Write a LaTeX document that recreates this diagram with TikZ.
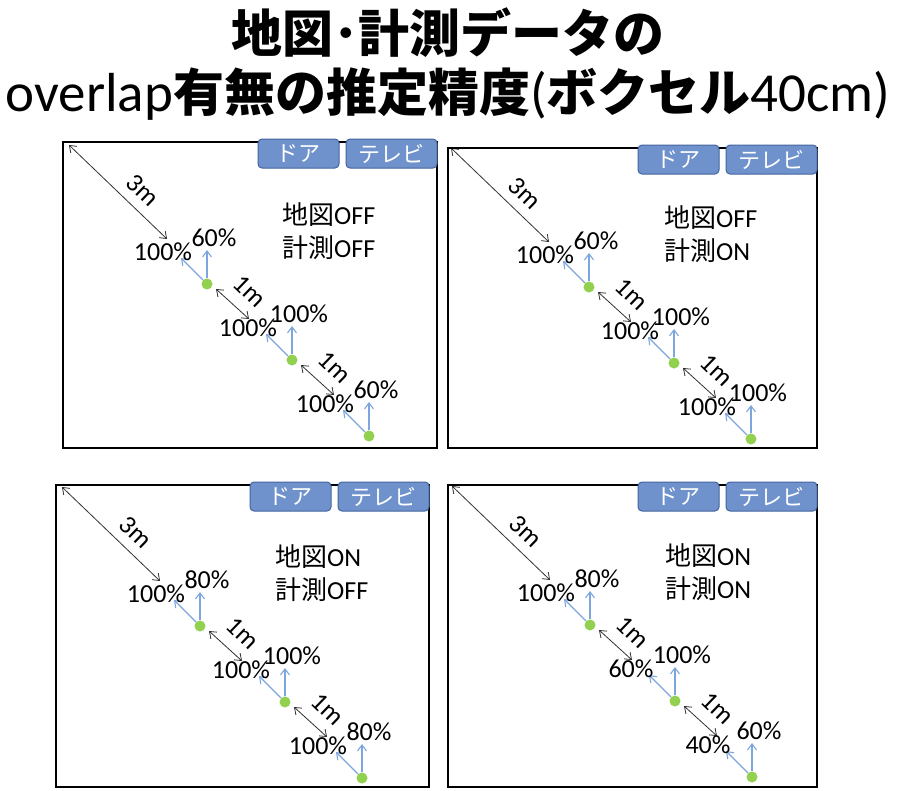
\documentclass[tikz,border=0pt]{standalone}
\usepackage{fontspec}
\setmainfont{Carlito}
\newfontfamily\jp{Noto Sans CJK JP}
\usetikzlibrary{arrows.meta,calc}
\definecolor{dotgreen}{RGB}{146,208,80}
\definecolor{arrblue}{RGB}{125,165,222}
\definecolor{btnfill}{RGB}{112,146,204}
\definecolor{btnedge}{RGB}{68,100,160}
\definecolor{dimgray}{RGB}{50,50,50}
\newcommand{\jpl}{\jp\fontsize{26}{30}\selectfont}
\newcommand{\jpt}{\jp\bfseries\fontsize{51}{60}\selectfont}
\tikzset{
  dotnode/.style={circle, fill=dotgreen, minimum size=11pt, inner sep=0pt},
  dimarrow/.style={draw=dimgray, line width=0.8pt, {Straight Barb[length=6pt,width=9pt]}-{Straight Barb[length=6pt,width=9pt]}},
  bluearrow/.style={draw=arrblue, line width=1.1pt, -{Straight Barb[length=6pt,width=9pt]}},
  lbl/.style={font=\fontsize{26}{30}\selectfont, inner sep=0pt},
  frameline/.style={draw=black, line width=1.8pt},
  btn/.style={draw=btnedge, fill=btnfill, line width=1pt, rounded corners=4pt, text=white, font=\jp\fontsize{22}{24}\selectfont, inner sep=0pt, minimum height=29pt},
  titletext/.style={font=\fontsize{55}{60}\selectfont, inner sep=0pt, anchor=base},
}
% frame with buttons: prefix, x0, y0, x1, y1
\newcommand{\paneframe}[5]{%
  \draw[frameline] (#2,#3) rectangle (#4,#5);
  \node[btn, minimum width=81pt] (#1door) at (#4-138.5,#3+11.5) {ドア};
  \node[btn, minimum width=91pt] (#1tv) at (#4-45.5,#3+11.5) {テレビ};
}
% panel content relative to first dot: prefix, line1, line2, six labels
\newcommand{\panelbody}[9]{%
  \node[dotnode] (#1d1) at (0,0) {};
  \node[dotnode] (#1d2) at (85,76) {};
  \node[dotnode] (#1d3) at (162,152) {};
  % 3m
  \coordinate (#1ms) at (-138,-139);
  \coordinate (#1me) at (-40,-45);
  \draw[dimarrow] (#1ms) -- (#1me);
  \node[lbl, rotate=-44] (#1m3) at (-64,-94) {3m};
  % 1m arrows
  \coordinate (#1as) at (9,5);
  \coordinate (#1ae) at (42,35);
  \draw[dimarrow] (#1as) -- (#1ae);
  \node[lbl, rotate=-44] (#1m1a) at (43,7) {1m};
  \coordinate (#1bs) at (94,81);
  \coordinate (#1be) at (127,111);
  \draw[dimarrow] (#1bs) -- (#1be);
  \node[lbl, rotate=-44] (#1m1b) at (128,83) {1m};
  % blue arrows
  \coordinate (#1l1) at (-26,-26);
  \coordinate (#1u1) at (0,-34);
  \coordinate (#1l2) at (59,50);
  \coordinate (#1u2) at (85,42);
  \coordinate (#1l3) at (136,126);
  \coordinate (#1u3) at (162,118);
  \draw[bluearrow] (#1d1) -- (#1l1);
  \draw[bluearrow] (#1d1) -- (#1u1);
  \draw[bluearrow] (#1d2) -- (#1l2);
  \draw[bluearrow] (#1d2) -- (#1u2);
  \draw[bluearrow] (#1d3) -- (#1l3);
  \draw[bluearrow] (#1d3) -- (#1u3);
  % labels
  \node[lbl] (#1L1) at (-44,-32) {#4};
  \node[lbl] (#1U1) at (7,-46) {#5};
  \node[lbl] (#1L2) at (41,44) {#6};
  \node[lbl] (#1U2) at (92,30) {#7};
  \node[lbl] (#1L3) at (118,120) {#8};
  \node[lbl] (#1U3) at (169,106) {#9};
  % state text
  \node[lbl, anchor=west] (#1s1) at (75,-69) {#2};
  \node[lbl, anchor=west] (#1s2) at (75,-36) {#3};
}
\begin{document}
\begin{tikzpicture}[x=1pt, y=-1pt]
\useasboundingbox (0,0) rectangle (897,790);
\fill[white] (0,0) rectangle (897,790);
% title
\node[titletext] (title1) at (448,52) {{\jpt 地図･計測データの}};
\node[titletext] (title2) at (448,111) {overlap{\jpt 有無の推定精度}({\jpt ボクセル}40cm)};
% panel 1
\begin{scope}[shift={(207,284)}]
\panelbody{pa}{{\jpl 地図}OFF}{{\jpl 計測}OFF}{100\%}{60\%}{100\%}{100\%}{100\%}{60\%}
\end{scope}
\paneframe{pa}{63}{142}{437}{448}
% panel 2
\begin{scope}[shift={(589,287)}]
\panelbody{pb}{{\jpl 地図}OFF}{{\jpl 計測}ON}{100\%}{60\%}{100\%}{100\%}{100\%}{100\%}
\end{scope}
\paneframe{pb}{448}{148}{817}{448}
% panel 3
\begin{scope}[shift={(200,626)}]
\panelbody{pc}{{\jpl 地図}ON}{{\jpl 計測}OFF}{100\%}{80\%}{100\%}{100\%}{100\%}{80\%}
\end{scope}
\paneframe{pc}{56}{485}{429}{787}
% panel 4
\begin{scope}[shift={(590,625)}]
\panelbody{pd}{{\jpl 地図}ON}{{\jpl 計測}ON}{100\%}{80\%}{60\%}{100\%}{40\%}{60\%}
\end{scope}
\paneframe{pd}{448}{485}{817}{787}
\end{tikzpicture}
\end{document}
